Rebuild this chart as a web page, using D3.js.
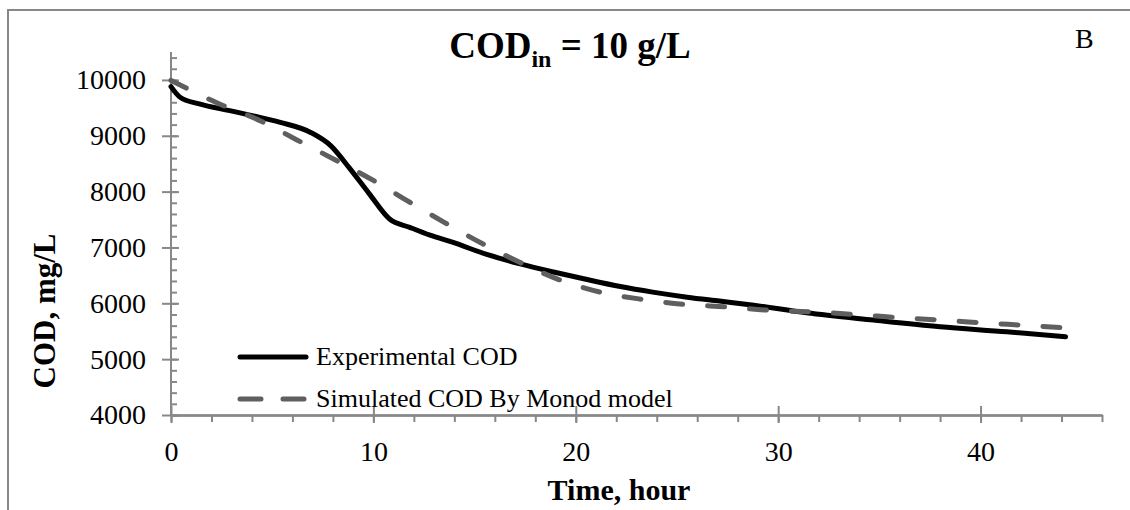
<!DOCTYPE html>
<html>
<head>
<meta charset="utf-8">
<script src="https://cdn.jsdelivr.net/npm/d3@7"></script>
<style>
  body { margin: 0; background: #fff; }
  text { font-family: "Liberation Serif", "Times New Roman", serif; }
</style>
</head>
<body>
<svg id="chart" width="1130" height="510"></svg>
<script>
// values
const expTime = [0, 0.45, 1.4, 2.9, 3.9, 5.4, 6.9, 7.9, 8.8, 9.8, 10.8, 11.8, 12.8, 13.9, 15.6, 17.2, 18.9, 20.5, 22.2, 23.8, 25.5, 27.1, 28.7, 31.4, 34.7, 38, 41.3, 44.2];
const expCOD = [9880, 9690, 9570, 9450, 9370, 9240, 9060, 8820, 8430, 7960, 7510, 7360, 7220, 7095, 6875, 6710, 6560, 6430, 6300, 6200, 6110, 6040, 5970, 5830, 5700, 5580, 5490, 5400];

const simTime = [0, 2.4, 4.4, 6.2, 8.1, 10, 11.8, 13.5, 15.4, 17.2, 19.2, 21.2, 23.3, 25.4, 27.5, 29.6, 31.7, 33.8, 35.9, 38, 40.1, 42.2, 44.2];
const simCOD = [9990, 9570, 9270, 8930, 8570, 8200, 7810, 7450, 7065, 6740, 6420, 6200, 6070, 5980, 5935, 5875, 5845, 5800, 5745, 5700, 5650, 5605, 5560];

const xTicks = [0, 10, 20, 30, 40];
const xMinorTicks = d3.range(0, 47, 2);
const yTicks = [4000, 5000, 6000, 7000, 8000, 9000, 10000];
const yMinorTicks = d3.range(4000, 10401, 200);

const seriesNames = ["Experimental COD", "Simulated COD By Monod model"];

const margin = { top: 52, right: 28, bottom: 95, left: 171 };
const axisColor = "#888888";
const simColor = "#5f5f5f";

const svg = d3.select("#chart");

// outer frame: only its left and top edges fall inside the picture
svg.append("path")
  .attr("d", "M8,510V10H1130")
  .attr("fill", "none")
  .attr("stroke", axisColor)
  .attr("stroke-width", 2);

const chart = svg.append("g")
  .attr("transform", `translate(${margin.left}, ${margin.top})`);

const innerWidth = 1102 - margin.left;
const innerHeight = 415 - margin.top;

const xscale = d3.scaleLinear().domain([0, 46]).range([0, innerWidth]);
const yscale = d3.scaleLinear().domain([4000, 10500]).range([innerHeight, 0]);
const fmt = d3.format("d");

// y axis: minor ticks inside, major ticks crossing
const yMinor = chart.append("g")
  .call(d3.axisLeft(yscale).tickValues(yMinorTicks).tickSize(-6).tickFormat(""));
const yMajorIn = chart.append("g")
  .call(d3.axisLeft(yscale).tickValues(yTicks).tickSize(-8).tickFormat(""));
const yMajor = chart.append("g")
  .call(d3.axisLeft(yscale).tickValues(yTicks).tickSize(9).tickPadding(16).tickSizeOuter(0).tickFormat(fmt));

// x axis: minor ticks outside, major ticks crossing
const xg = chart.append("g").attr("transform", `translate(0, ${innerHeight})`);
const xMinor = xg.append("g")
  .call(d3.axisBottom(xscale).tickValues(xMinorTicks).tickSize(7).tickSizeOuter(0).tickFormat(""));
const xMajorIn = xg.append("g")
  .call(d3.axisBottom(xscale).tickValues(xTicks).tickSize(-9).tickSizeOuter(0).tickFormat(""));
const xMajor = xg.append("g")
  .call(d3.axisBottom(xscale).tickValues(xTicks).tickSize(8).tickPadding(18).tickSizeOuter(0).tickFormat(fmt));

// tick-only axes carry no labels
[yMinor, yMajorIn, xMinor, xMajorIn].forEach((g) => g.selectAll("text").remove());

[yMinor, yMajorIn, yMajor, xMinor, xMajorIn, xMajor].forEach((g) => {
  g.attr("font-size", 28).attr("font-family", '"Liberation Serif", serif');
  g.selectAll("path.domain").attr("stroke", axisColor).attr("stroke-width", 2);
  g.selectAll("line").attr("stroke", axisColor).attr("stroke-width", 2);
  g.selectAll("text").attr("fill", "#000");
});
// keep the y domain a plain vertical line
[yMinor, yMajorIn, yMajor].forEach((g) => g.select("path.domain").attr("d", `M0,${innerHeight}V0`));

// lines
const line = d3.line()
  .x((d) => xscale(d[0]))
  .y((d) => yscale(d[1]))
  .curve(d3.curveMonotoneX);

const expData = d3.zip(expTime, expCOD);
const simData = d3.zip(simTime, simCOD);

chart.append("path")
  .attr("d", line(expData))
  .attr("fill", "none")
  .attr("stroke", "#000")
  .attr("stroke-width", 5)
  .attr("stroke-linecap", "round")
  .attr("stroke-linejoin", "round");

chart.append("path")
  .attr("d", line(simData))
  .attr("fill", "none")
  .attr("stroke", simColor)
  .attr("stroke-width", 5)
  .attr("stroke-dasharray", "17,25")
  .attr("stroke-linecap", "round");

// legend
const legend = svg.append("g");
const legendRows = [
  { name: seriesNames[0], y: 357, color: "#000", dash: null },
  { name: seriesNames[1], y: 399, color: simColor, dash: "21,22" },
];
legendRows.forEach((r) => {
  legend.append("line")
    .attr("x1", 240).attr("x2", 306)
    .attr("y1", r.y).attr("y2", r.y)
    .attr("stroke", r.color)
    .attr("stroke-width", 5)
    .attr("stroke-linecap", "round")
    .attr("stroke-dasharray", r.dash);
  legend.append("text")
    .attr("x", 316)
    .attr("y", r.y + 8)
    .attr("font-size", 26)
    .text(r.name);
});

// title
const title = svg.append("text")
  .attr("x", 570)
  .attr("y", 58)
  .attr("text-anchor", "middle")
  .attr("font-size", 37)
  .attr("font-weight", "bold");
title.append("tspan").text("COD");
title.append("tspan").attr("dy", 9).attr("font-size", 24).text("in");
title.append("tspan").attr("dy", -9).text(" = 10 g/L");

svg.append("text")
  .attr("x", 1075)
  .attr("y", 48)
  .attr("font-size", 28)
  .text("B");

// axis labels
svg.append("text")
  .attr("x", 619)
  .attr("y", 500)
  .attr("text-anchor", "middle")
  .attr("font-size", 30)
  .attr("font-weight", "bold")
  .text("Time, hour");

svg.append("text")
  .attr("transform", "translate(55, 311) rotate(-90)")
  .attr("text-anchor", "middle")
  .attr("font-size", 31)
  .attr("font-weight", "bold")
  .text("COD, mg/L");
</script>
</body>
</html>
